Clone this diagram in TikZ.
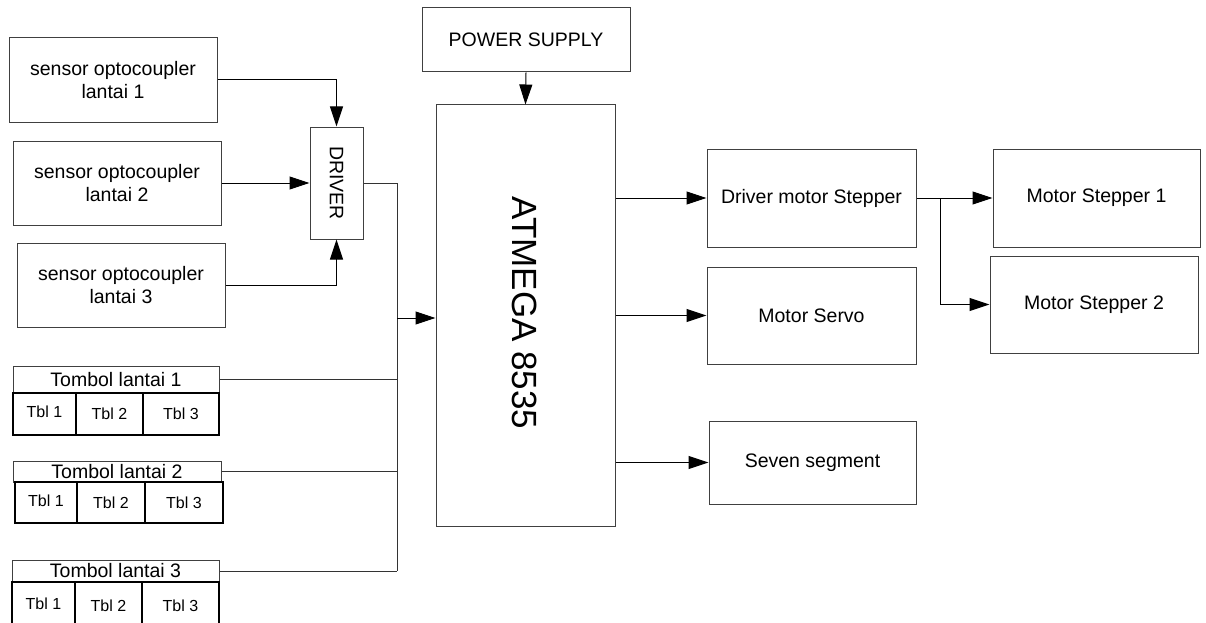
\documentclass[tikz,border=0pt]{standalone}
\usepackage{fontspec}
\setmainfont{Liberation Sans}
\usetikzlibrary{arrows.meta}
\begin{document}
\begin{tikzpicture}[x=1pt,y=-1pt,
  box/.style={draw=black!75, line width=1pt, inner sep=0pt, align=center, font=\fontsize{19.5}{23}\selectfont},
  cell/.style={draw=black, line width=1.6pt, inner sep=0pt, font=\fontsize{16}{19}\selectfont},
  arr/.style={draw=black, line width=1pt, -{Triangle[length=20pt,width=13pt]}},
  wire/.style={draw=black!80, line width=1pt}]
\useasboundingbox (0,0) rectangle (1206,623);
\clip (0,0) rectangle (1206,623);
% sensors
\node[box, minimum width=208pt, minimum height=84pt] (s1) at (113,80) {sensor optocoupler\\lantai 1};
\node[box, minimum width=208pt, minimum height=84pt] (s2) at (117,183) {sensor optocoupler\\lantai 2};
\node[box, minimum width=208pt, minimum height=84pt] (s3) at (121,285) {sensor optocoupler\\lantai 3};
% driver
\node[box, minimum width=53pt, minimum height=112pt] (drv) at (336.5,183) {};
\node[rotate=-90, font=\fontsize{19.5}{23}\selectfont] (drvl) at (drv.center) {DRIVER};
% tombol 1
\node[box, minimum width=206pt, minimum height=27pt] (t1) at (116,379.5) {Tombol lantai 1};
\node[cell, minimum width=63pt, minimum height=42pt] (t1a) at (44.5,414) {\raisebox{4pt}{Tbl 1}};
\node[cell, minimum width=67pt, minimum height=42pt] (t1b) at (109.5,414) {\raisebox{-3pt}{Tbl 2}};
\node[cell, minimum width=76pt, minimum height=42pt] (t1c) at (181,414) {\raisebox{-3pt}{Tbl 3}};
% tombol 2
\node[box, minimum width=208pt, minimum height=21pt] (t2) at (117,471.5) {Tombol lantai 2};
\node[cell, minimum width=62pt, minimum height=41pt] (t2a) at (46,502.5) {\raisebox{4pt}{Tbl 1}};
\node[cell, minimum width=68pt, minimum height=41pt] (t2b) at (111,502.5) {\raisebox{-3pt}{Tbl 2}};
\node[cell, minimum width=78pt, minimum height=41pt] (t2c) at (184,502.5) {\raisebox{-3pt}{Tbl 3}};
% tombol 3
\node[box, minimum width=207pt, minimum height=22pt] (t3) at (115.5,571) {Tombol lantai 3};
\node[cell, minimum width=63pt, minimum height=48pt] (t3a) at (43.5,606) {\raisebox{4pt}{Tbl 1}};
\node[cell, minimum width=67pt, minimum height=48pt] (t3b) at (108.5,606) {\raisebox{-1pt}{Tbl 2}};
\node[cell, minimum width=77pt, minimum height=48pt] (t3c) at (180.5,606) {\raisebox{-1pt}{Tbl 3}};
% power supply and MCU
\node[box, minimum width=208pt, minimum height=64pt] (ps) at (526,40) {POWER SUPPLY};
\node[box, minimum width=179pt, minimum height=421pt] (mcu) at (525.5,315.5) {};
\node[rotate=-90, font=\fontsize{35}{40}\selectfont] (mcul) at (525,313) {ATMEGA 8535};
% outputs
\node[box, minimum width=209pt, minimum height=98pt] (dms) at (811.5,198) {Driver motor Stepper};
\node[box, minimum width=209pt, minimum height=97pt] (srv) at (811.5,315.5) {Motor Servo};
\node[box, minimum width=207pt, minimum height=83pt] (seg) at (812.5,462.5) {Seven segment};
\node[box, minimum width=207pt, minimum height=98pt] (ms1) at (1096.5,198) {Motor Stepper 1};
\node[box, minimum width=208pt, minimum height=97pt] (ms2) at (1094,304.5) {Motor Stepper 2};
% bus coordinates
\coordinate (bt) at (397,183);
\coordinate (bb) at (397,571);
\coordinate (bj) at (397,318);
\coordinate (br) at (940,198);
% connectors
\draw[arr] (s1.east) -| (drv.north);
\draw[arr] (s2.east) -- (drv.west);
\draw[arr] (s3.east) -| (drv.south);
\draw[wire] (drv.east) -- (bt) -- (bb);
\draw[wire] (t1.east) -- (t1.east -| bt);
\draw[wire] (t2.east) -- (t2.east -| bt);
\draw[wire] (t3.east) -- (t3.east -| bt);
\draw[arr] (bj) -- (bj -| mcu.west);
\draw[arr] (ps.south) -- (mcu.north);
\draw[arr] (mcu.east |- dms.west) -- (dms.west);
\draw[arr] (mcu.east |- srv.west) -- (srv.west);
\draw[arr] (mcu.east |- seg.west) -- (seg.west);
\draw[arr] (dms.east) -- (ms1.west);
\draw[arr] (br) |- (ms2.west);
\end{tikzpicture}
\end{document}
